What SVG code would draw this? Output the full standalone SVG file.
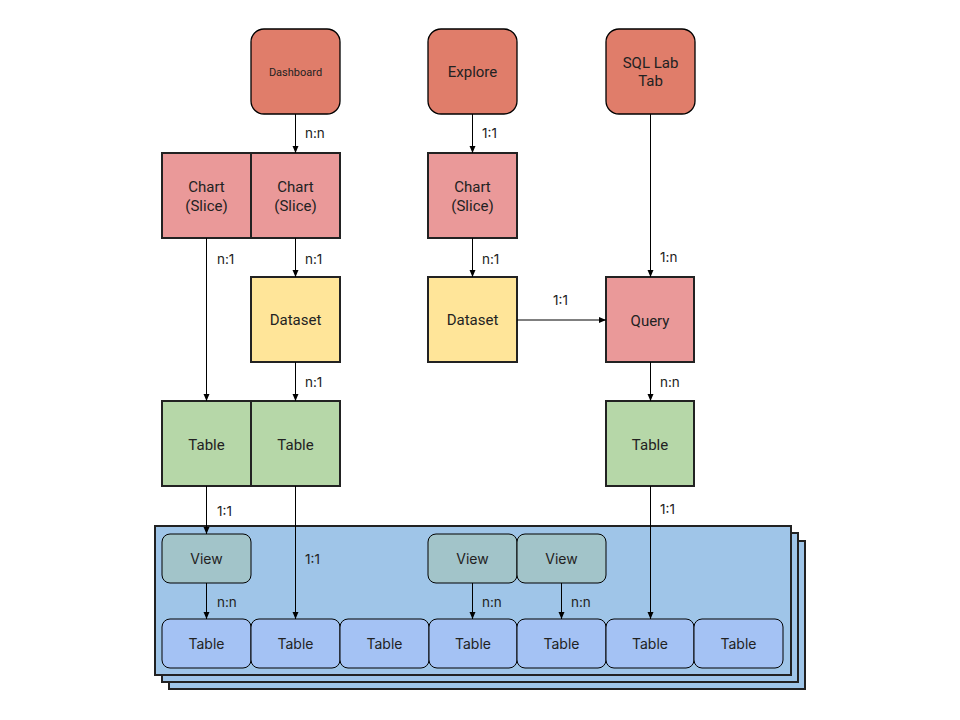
<svg xmlns="http://www.w3.org/2000/svg" width="960" height="720" viewBox="0 0 960 720">
<defs>
<marker id="ah" markerWidth="8" markerHeight="8" refX="7" refY="4" orient="auto" markerUnits="userSpaceOnUse">
<path d="M0,1 L7,4 L0,7 Z" fill="#000"/>
</marker>
<style>
.top{fill:#E07D6A;stroke:#000;stroke-width:1.3}
.chart{fill:#EA9999;stroke:#222;stroke-width:2}
.ds{fill:#FFE599;stroke:#222;stroke-width:2}
.gt{fill:#B6D7A8;stroke:#222;stroke-width:2}
.cont{fill:#9FC5E8;stroke:#222;stroke-width:2}
.view{fill:#A2C4C9;stroke:#000;stroke-width:1}
.bt{fill:#A4C2F4;stroke:#000;stroke-width:1}
text{font-family:Roboto,"Liberation Sans",sans-serif;font-size:15px;fill:#222;text-anchor:middle}
.in{font-family:Inter,Roboto,"Liberation Sans",sans-serif;font-size:14px}
.lbl{font-family:Inter,Roboto,"Liberation Sans",sans-serif;text-anchor:start;font-size:13.5px}
.cn line{stroke:#000;stroke-width:1;marker-end:url(#ah)}
</style>
</defs>
<rect width="960" height="720" fill="#fff"/>

<g id="container">
<rect class="cont" x="169" y="541" width="636" height="148"/>
<rect class="cont" x="162" y="533" width="636" height="149"/>
<rect class="cont" x="155" y="526" width="636" height="149"/>
</g>

<g id="dashboard"><rect class="top" x="251" y="29" width="89" height="85" rx="13"/><text x="295.5" y="76" style="font-size:11px">Dashboard</text></g>
<g id="explore"><rect class="top" x="428" y="29" width="89" height="85" rx="13"/><text x="472.5" y="77">Explore</text></g>
<g id="sqllab"><rect class="top" x="606" y="29" width="89" height="85" rx="13"/><text x="650.5" y="68">SQL Lab</text><text x="650.5" y="86">Tab</text></g>

<g id="chart1"><rect class="chart" x="162" y="153" width="89" height="85"/><text x="206.5" y="192">Chart</text><text x="206.5" y="211">(Slice)</text></g>
<g id="chart2"><rect class="chart" x="251" y="153" width="89" height="85"/><text x="295.5" y="192">Chart</text><text x="295.5" y="211">(Slice)</text></g>
<g id="chart3"><rect class="chart" x="428" y="153" width="89" height="85"/><text x="472.5" y="192">Chart</text><text x="472.5" y="211">(Slice)</text></g>

<g id="dataset1"><rect class="ds" x="251" y="277" width="89" height="85"/><text x="295.5" y="325">Dataset</text></g>
<g id="dataset2"><rect class="ds" x="428" y="277" width="89" height="85"/><text x="472.5" y="325">Dataset</text></g>
<g id="query"><rect class="chart" x="606" y="277" width="88" height="85"/><text x="650" y="326">Query</text></g>

<g id="table1"><rect class="gt" x="162" y="401" width="89" height="85"/><text x="206.5" y="450">Table</text></g>
<g id="table2"><rect class="gt" x="251" y="401" width="89" height="85"/><text x="295.5" y="450">Table</text></g>
<g id="table3"><rect class="gt" x="606" y="401" width="88" height="85"/><text x="650" y="450">Table</text></g>

<g id="view1"><rect class="view" x="162" y="534" width="89" height="49" rx="8"/><text class="in" x="206.5" y="564">View</text></g>
<g id="view2"><rect class="view" x="428" y="534" width="89" height="49" rx="8"/><text class="in" x="472.5" y="564">View</text></g>
<g id="view3"><rect class="view" x="517" y="534" width="89" height="49" rx="8"/><text class="in" x="561.5" y="564">View</text></g>

<g id="bt1"><rect class="bt" x="162" y="619" width="89" height="49" rx="8"/><text class="in" x="206.5" y="649">Table</text></g>
<g id="bt2"><rect class="bt" x="251" y="619" width="89" height="49" rx="8"/><text class="in" x="295.5" y="649">Table</text></g>
<g id="bt3"><rect class="bt" x="340" y="619" width="89" height="49" rx="8"/><text class="in" x="384.5" y="649">Table</text></g>
<g id="bt4"><rect class="bt" x="429" y="619" width="88" height="49" rx="8"/><text class="in" x="473" y="649">Table</text></g>
<g id="bt5"><rect class="bt" x="517" y="619" width="89" height="49" rx="8"/><text class="in" x="561.5" y="649">Table</text></g>
<g id="bt6"><rect class="bt" x="606" y="619" width="88" height="49" rx="8"/><text class="in" x="650" y="649">Table</text></g>
<g id="bt7"><rect class="bt" x="694" y="619" width="89" height="49" rx="8"/><text class="in" x="738.5" y="649">Table</text></g>

<g id="connectors" class="cn">
<line x1="295.5" y1="114" x2="295.5" y2="153"/>
<line x1="472.5" y1="114" x2="472.5" y2="153"/>
<line x1="650.5" y1="114" x2="650.5" y2="277"/>
<line x1="206.5" y1="238" x2="206.5" y2="401"/>
<line x1="295.5" y1="238" x2="295.5" y2="277"/>
<line x1="472.5" y1="238" x2="472.5" y2="277"/>
<line x1="517" y1="320" x2="606" y2="320"/>
<line x1="295.5" y1="362" x2="295.5" y2="401"/>
<line x1="650.5" y1="362" x2="650.5" y2="401"/>
<line x1="206.5" y1="486" x2="206.5" y2="534"/>
<line x1="295.5" y1="486" x2="295.5" y2="619"/>
<line x1="650.5" y1="486" x2="650.5" y2="619"/>
<line x1="206.5" y1="583" x2="206.5" y2="619"/>
<line x1="472.5" y1="583" x2="472.5" y2="619"/>
<line x1="561.5" y1="583" x2="561.5" y2="619"/>
</g>

<g id="labels">
<text class="lbl" x="305" y="138">n:n</text>
<text class="lbl" x="482" y="138">1:1</text>
<text class="lbl" x="660" y="262">1:n</text>
<text class="lbl" x="217" y="264">n:1</text>
<text class="lbl" x="305" y="264">n:1</text>
<text class="lbl" x="482" y="264">n:1</text>
<text class="lbl" x="553" y="305">1:1</text>
<text class="lbl" x="305" y="387">n:1</text>
<text class="lbl" x="660" y="387">n:n</text>
<text class="lbl" x="217" y="516">1:1</text>
<text class="lbl" x="660" y="514">1:1</text>
<text class="lbl" x="305" y="564">1:1</text>
<text class="lbl" x="217" y="607">n:n</text>
<text class="lbl" x="482" y="607">n:n</text>
<text class="lbl" x="571" y="607">n:n</text>
</g>
</svg>
